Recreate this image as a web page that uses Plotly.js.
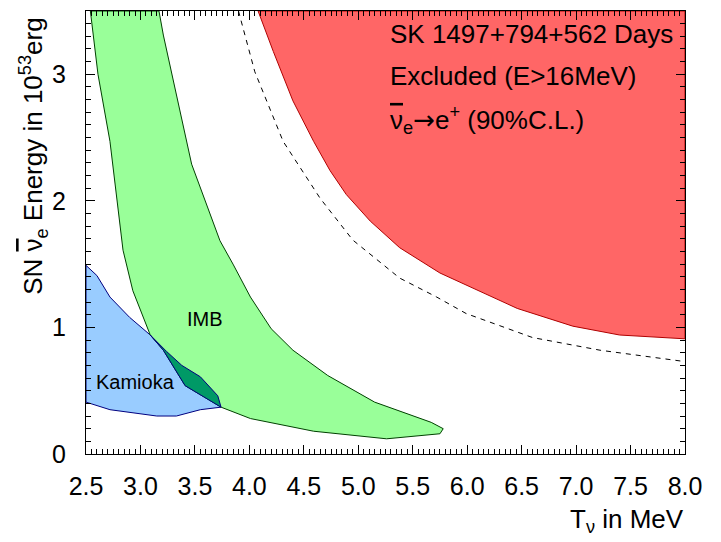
<!DOCTYPE html>
<html>
<head>
<meta charset="utf-8">
<script src="https://cdn.plot.ly/plotly-3.0.1.min.js"></script>
<style>html,body{margin:0;padding:0;background:#fff;}#chart{width:721px;height:542px;}</style>
</head>
<body>
<div id="chart"></div>
<script>
// SK excluded region (E>16 MeV), boundary then closed along top/right edges
const skX = [4.08, 4.22, 4.40, 4.51, 4.59, 4.74, 4.89, 5.11, 5.38, 5.75, 6.15, 6.46, 6.97, 7.40, 8.0, 8.0, 4.08];
const skY = [3.5, 3.18, 2.79, 2.61, 2.47, 2.24, 2.05, 1.84, 1.63, 1.43, 1.27, 1.15, 1.01, 0.94, 0.91, 3.5, 3.5];

// dashed curve
const dashX = [3.90, 4.05, 4.31, 4.65, 4.95, 5.38, 5.72, 5.99, 6.60, 7.22, 8.0];
const dashY = [3.5, 3.02, 2.47, 2.02, 1.69, 1.39, 1.24, 1.11, 0.92, 0.82, 0.73];

// Kamioka region
const kamX = [2.5, 2.6, 2.72, 2.9, 3.09, 3.24, 3.38, 3.55, 3.71, 3.74, 3.55, 3.33, 3.15, 2.72, 2.5, 2.5];
const kamY = [1.49, 1.41, 1.24, 1.08, 0.94, 0.81, 0.70, 0.61, 0.46, 0.37, 0.35, 0.30, 0.30, 0.35, 0.41, 1.49];

// IMB region
const imbX = [2.54, 2.61, 2.72, 2.84, 2.93, 3.09, 3.21, 3.41, 3.74, 4.01, 4.59, 5.26, 5.75, 5.78, 5.67, 5.15, 4.72, 4.40, 4.20, 4.01, 3.85, 3.73, 3.47, 3.21, 3.17, 2.54];
const imbY = [3.5, 3.0, 2.47, 1.61, 1.29, 0.94, 0.82, 0.54, 0.37, 0.28, 0.18, 0.12, 0.16, 0.20, 0.25, 0.41, 0.62, 0.82, 0.99, 1.24, 1.50, 1.685, 2.29, 3.31, 3.5, 3.5];

// overlap of Kamioka and IMB
const ovX = [3.09, 3.24, 3.38, 3.55, 3.71, 3.74, 3.41, 3.21, 3.09];
const ovY = [0.94, 0.81, 0.70, 0.61, 0.46, 0.37, 0.54, 0.82, 0.94];

const xTickVals = [2.5, 3.0, 3.5, 4.0, 4.5, 5.0, 5.5, 6.0, 6.5, 7.0, 7.5, 8.0];
const xTickText = ["2.5","3.0","3.5","4.0","4.5","5.0","5.5","6.0","6.5","7.0","7.5","8.0"];
const yTickVals = [0, 1, 2, 3];
const yTickText = ["0","1","2","3"];

const F = "Liberation Sans, Arial, sans-serif";
const NUBAR = '<span style="text-decoration:overline">ν</span>';
const ARROW = '<span style="font-family:DejaVu Sans">→</span>';

const traces = [
  {x: skX, y: skY, type: 'scatter', mode: 'lines', fill: 'toself', fillcolor: '#ff6666',
   line: {color: '#b00000', width: 1}, hoverinfo: 'skip'},
  {x: dashX, y: dashY, type: 'scatter', mode: 'lines',
   line: {color: '#000', width: 1, dash: '5px,5px'}, hoverinfo: 'skip'},
  {x: kamX, y: kamY, type: 'scatter', mode: 'lines', fill: 'toself', fillcolor: '#99ccff',
   line: {color: '#000080', width: 1}, hoverinfo: 'skip'},
  {x: imbX, y: imbY, type: 'scatter', mode: 'lines', fill: 'toself', fillcolor: '#99ff99',
   line: {color: '#004000', width: 1}, hoverinfo: 'skip'},
  {x: ovX, y: ovY, type: 'scatter', mode: 'lines', fill: 'toself', fillcolor: '#009966',
   line: {color: '#000080', width: 1}, hoverinfo: 'skip'}
];

const layout = {
  width: 721, height: 542,
  margin: {l: 86, r: 36, t: 11, b: 88},
  paper_bgcolor: '#fff', plot_bgcolor: '#fff',
  showlegend: false,
  font: {family: F, size: 25, color: '#000'},
  xaxis: {
    range: [2.5, 8.0], tickvals: xTickVals, ticktext: xTickText,
    ticks: 'inside', ticklen: 9, tickcolor: '#000', tickwidth: 1,
    showline: true, linecolor: '#000', linewidth: 1, mirror: 'allticks',
    showgrid: false, zeroline: false, ticklabelstandoff: 10,
    tickfont: {family: F, size: 25, color: '#000'},
    minor: {dtick: 0.05, tick0: 2.5, ticks: 'inside', ticklen: 5, tickcolor: '#000', showgrid: false}
  },
  yaxis: {
    range: [0, 3.5], tickvals: yTickVals, ticktext: yTickText,
    ticks: 'inside', ticklen: 9, tickcolor: '#000', tickwidth: 1,
    showline: true, linecolor: '#000', linewidth: 1, mirror: 'allticks',
    showgrid: false, zeroline: false, ticklabelstandoff: 14,
    tickfont: {family: F, size: 25, color: '#000'},
    minor: {dtick: 0.1, tick0: 0, ticks: 'inside', ticklen: 5, tickcolor: '#000', showgrid: false}
  },
  annotations: [
    {text: 'SN ' + NUBAR + '<sub>e</sub> Energy in 10<sup>53</sup>erg', xref: 'paper', yref: 'paper',
     x: -0.0885, y: 0.673, xanchor: 'center', yanchor: 'middle', textangle: -90, showarrow: false,
     font: {family: F, size: 26, color: '#000'}},
    {text: 'T<sub>ν</sub> in MeV', xref: 'paper', yref: 'paper', x: 1.002, y: -0.149,
     xanchor: 'right', yanchor: 'middle', showarrow: false, font: {family: F, size: 26, color: '#000'}},
    {text: 'SK 1497+794+562 Days', xref: 'paper', yref: 'paper', x: 0.504, y: 0.947,
     xanchor: 'left', yanchor: 'middle', showarrow: false, font: {family: F, size: 26, color: '#000'}},
    {text: 'Excluded (E>16MeV)', xref: 'paper', yref: 'paper', x: 0.504, y: 0.853,
     xanchor: 'left', yanchor: 'middle', showarrow: false, font: {family: F, size: 26, color: '#000'}},
    {text: NUBAR + '<sub>e</sub>' + ARROW + 'e<sup>+</sup> (90%C.L.)', xref: 'paper', yref: 'paper', x: 0.504, y: 0.754,
     xanchor: 'left', yanchor: 'middle', showarrow: false, font: {family: F, size: 26, color: '#000'}},
    {text: 'IMB', xref: 'x', yref: 'y', x: 3.59, y: 1.07, xanchor: 'center', yanchor: 'middle',
     showarrow: false, font: {family: F, size: 20, color: '#000'}},
    {text: 'Kamioka', xref: 'x', yref: 'y', x: 2.95, y: 0.57, xanchor: 'center', yanchor: 'middle',
     showarrow: false, font: {family: F, size: 20, color: '#000'}}
  ]
};

Plotly.newPlot('chart', traces, layout, {displayModeBar: false, staticPlot: true});
</script>
</body>
</html>
